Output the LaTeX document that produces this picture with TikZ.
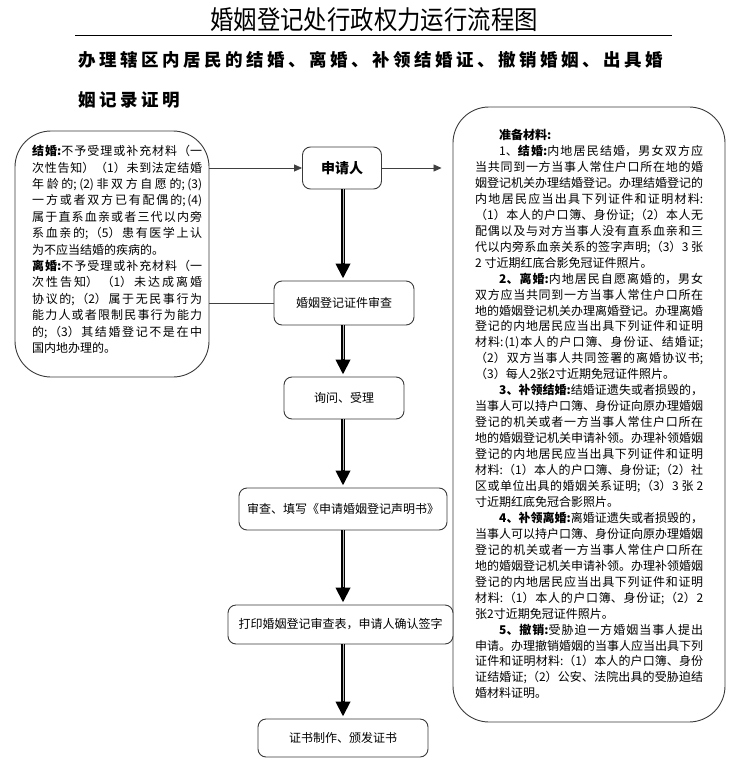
\documentclass[tikz,border=0pt]{standalone}
\usepackage{fontspec}
\usetikzlibrary{arrows.meta}
\setmainfont{Noto Sans CJK SC}
\newfontfamily\subfont[LetterSpace=20]{Noto Sans CJK SC}
\XeTeXlinebreaklocale "zh"
\XeTeXlinebreakskip=0pt plus 4pt
\definecolor{boxgray}{HTML}{3A3A3A}
\definecolor{linegray}{HTML}{404040}
\tikzset{
  titletext/.style={inner sep=0pt, xscale=0.9, font=\fontsize{26}{30}\selectfont},
  subtext/.style={inner sep=0pt, font=\subfont\bfseries\fontsize{17.5}{20}\selectfont},
  ruleline/.style={draw=black, line width=1pt},
  bigbox/.style={draw=boxgray, line width=0.9pt, rounded corners=36pt, inner sep=0pt},
  flowbox/.style={draw=boxgray, line width=0.9pt, rounded corners=8pt, fill=white, inner sep=0pt, font=\fontsize{12}{14}\selectfont},
  boxtext/.style={anchor=base west, inner sep=0pt, align=justify, font=\fontsize{12}{16.4}\selectfont},
  thinarrow/.style={draw=linegray, line width=0.8pt, -{Triangle[length=8pt,width=7pt]}},
  thinline/.style={draw=linegray, line width=0.8pt},
  bigarrow/.style={draw=black, line width=4.5pt, -{Triangle[length=15pt,width=14pt]}, shorten >=2pt},
  shine/.style={draw=gray!55, line width=1pt, shorten >=18pt},
}
\begin{document}
\begin{tikzpicture}[x=1pt,y=-1pt]
\useasboundingbox (0,0) rectangle (749,762);
% title
\node[titletext, anchor=base] (title) at (374,30) {婚姻登记处行政权力运行流程图};
\draw[ruleline] (75,36) -- (672,36);
\node[subtext, anchor=base west] (sub1) at (78,66.7) {办理辖区内居民的结婚、离婚、补领结婚证、撤销婚姻、出具婚};
\node[subtext, anchor=base west] (sub2) at (78,106.7) {姻记录证明};
% side boxes
\node[bigbox, minimum width=194pt, minimum height=246pt] (leftbox) at (112,254) {};
\node[bigbox, minimum width=272pt, minimum height=615pt] (rightbox) at (589,414.5) {};
\node[boxtext, text width=170pt] (lefttext) at (32,155.6) {%
\textbf{结婚:}不予受理或补充材料（一\linebreak
次性告知）（1）未到法定结婚\linebreak
年龄的;(2)非双方自愿的;(3)\linebreak
一方或者双方已有配偶的;(4)\linebreak
属于直系血亲或者三代以内旁\linebreak
系血亲的;（5）患有医学上认\linebreak
为不应当结婚的疾病的。\\
\textbf{离婚:}不予受理或补充材料（一\linebreak
次性告知）\ （1）未达成离婚\linebreak
协议的;（2）属于无民事行为\linebreak
能力人或者限制民事行为能力\linebreak
的;（3）其结婚登记不是在中\linebreak
国内地办理的。};
\node[boxtext, text width=228pt, font=\fontsize{12}{15.95}\selectfont] (righttext) at (475,139.6) {%
\hspace*{24pt}\textbf{准备材料:}\\
\hspace*{24pt}1、\textbf{结婚:}内地居民结婚，男女双方应\linebreak
当共同到一方当事人常住户口所在地的婚\linebreak
姻登记机关办理结婚登记。办理结婚登记的\linebreak
内地居民应当出具下列证件和证明材料:\linebreak
（1）本人的户口簿、身份证;（2）本人无\linebreak
配偶以及与对方当事人没有直系血亲和三\linebreak
代以内旁系血亲关系的签字声明;（3）3 张\linebreak
2 寸近期红底合影免冠证件照片。\\
\hspace*{24pt}\textbf{2、离婚:}内地居民自愿离婚的，男女\linebreak
双方应当共同到一方当事人常住户口所在\linebreak
地的婚姻登记机关办理离婚登记。办理离婚\linebreak
登记的内地居民应当出具下列证件和证明\linebreak
材料:(1)本人的户口簿、身份证、结婚证;\linebreak
（2）双方当事人共同签署的离婚协议书;\linebreak
（3）每人2张2寸近期免冠证件照片。\\
\hspace*{24pt}\textbf{3、补领结婚:}结婚证遗失或者损毁的，\linebreak
当事人可以持户口簿、身份证向原办理婚姻\linebreak
登记的机关或者一方当事人常住户口所在\linebreak
地的婚姻登记机关申请补领。办理补领婚姻\linebreak
登记的内地居民应当出具下列证件和证明\linebreak
材料:（1）本人的户口簿、身份证;（2）社\linebreak
区或单位出具的婚姻关系证明;（3）3 张 2\linebreak
寸近期红底免冠合影照片。\\
\hspace*{24pt}\textbf{4、补领离婚:}离婚证遗失或者损毁的，\linebreak
当事人可以持户口簿、身份证向原办理婚姻\linebreak
登记的机关或者一方当事人常住户口所在\linebreak
地的婚姻登记机关申请补领。办理补领婚姻\linebreak
登记的内地居民应当出具下列证件和证明\linebreak
材料:（1）本人的户口簿、身份证;（2）2\linebreak
张2寸近期免冠证件照片。\\
\hspace*{24pt}\textbf{5、撤销:}受胁迫一方婚姻当事人提出\linebreak
申请。办理撤销婚姻的当事人应当出具下列\linebreak
证件和证明材料:（1）本人的户口簿、身份\linebreak
证结婚证;（2）公安、法院出具的受胁迫结\linebreak
婚材料证明。};
% flow
\node[flowbox, minimum width=79pt, minimum height=42pt, font=\bfseries\fontsize{14}{16}\selectfont] (apply) at (342,168) {申请人};
\node[flowbox, minimum width=140pt, minimum height=44pt] (check) at (344,303) {婚姻登记证件审查};
\node[flowbox, minimum width=120pt, minimum height=42pt] (ask) at (344,398) {询问、受理};
\node[flowbox, minimum width=208pt, minimum height=42pt] (fillin) at (343,509) {审查、填写《申请婚姻登记声明书》};
\node[flowbox, minimum width=225pt, minimum height=39pt] (print) at (340.5,624.5) {打印婚姻登记审查表，申请人确认签字};
\node[flowbox, minimum width=170pt, minimum height=38pt] (cert) at (343,738) {证书制作、颁发证书};
% connectors
\draw[thinarrow] (leftbox.east |- apply.west) -- (apply.west);
\draw[thinline] (leftbox.east |- check.west) -- (check.west);
\draw[thinarrow, shorten >=11pt] (apply.east) -- (rightbox.west |- apply.east);
\foreach \a/\b in {apply/check, check/ask, ask/fillin, fillin/print, print/cert}{
  \draw[bigarrow] (\a.south -| 343,0) -- (\b.north -| 343,0);
  \draw[shine] (\a.south -| 343,0) -- (\b.north -| 343,0);
}
\end{tikzpicture}
\end{document}
